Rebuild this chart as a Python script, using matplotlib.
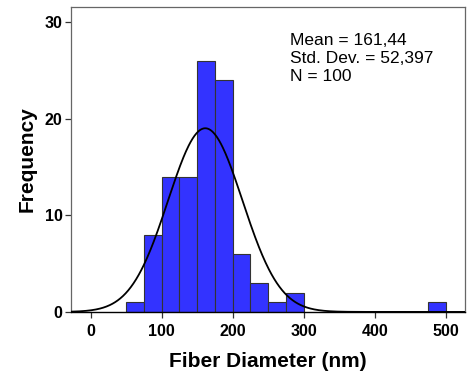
import numpy as np
import matplotlib
matplotlib.use("Agg")
import matplotlib.pyplot as plt

bin_edges_left = [50, 75, 100, 125, 150, 175, 200, 225, 250, 275, 475]
counts = [1, 8, 14, 14, 26, 24, 6, 3, 1, 2, 1]
bin_width = 25
mean = 161.44
std = 52.397
n = 100
xticks = [0, 100, 200, 300, 400, 500]
yticks = [0, 10, 20, 30]

plt.rcParams['font.family'] = ['Liberation Sans', 'DejaVu Sans']

fig = plt.figure(figsize=(4.7, 3.79), dpi=100)
ax = fig.add_axes([0.151, 0.177, 0.838, 0.8045])

ax.bar(bin_edges_left, counts, width=bin_width, align='edge',
       color='#3333ff', edgecolor='#333333', linewidth=0.8, zorder=2)

xlim = (-27.7, 527)
xs = np.linspace(xlim[0], xlim[1], 600)
ys = n * bin_width * np.exp(-0.5 * ((xs - mean) / std) ** 2) / (std * np.sqrt(2 * np.pi))
ax.plot(xs, ys, color='black', lw=1.3, zorder=3)

ax.set_xlim(*xlim)
ax.set_ylim(0, 31.6)
ax.set_xticks(xticks)
ax.set_yticks(yticks)
ax.tick_params(axis='both', direction='out', length=4, width=0.9, color='#333333',
               labelsize=11.5)
ax.tick_params(axis='x', pad=5)
ax.tick_params(axis='y', pad=2)
for lab in ax.get_xticklabels() + ax.get_yticklabels():
    lab.set_fontweight('bold')

for s in ['left', 'top', 'right']:
    ax.spines[s].set_color('#666666')
    ax.spines[s].set_linewidth(0.9)
ax.spines['bottom'].set_color('black')
ax.spines['bottom'].set_linewidth(1.0)

ax.set_xlabel('Fiber Diameter (nm)', fontsize=15, fontweight='bold', labelpad=9)
ax.set_ylabel('Frequency', fontsize=15, fontweight='bold', labelpad=6)

stats_text = 'Mean = {}\nStd. Dev. = {}\nN = {}'.format(
    '{:.2f}'.format(mean).replace('.', ','),
    '{:.3f}'.format(std).replace('.', ','),
    n)
ax.text(0.556, 0.915, stats_text,
        transform=ax.transAxes, ha='left', va='top', fontsize=12.5, linespacing=1.25)

fig.savefig('out.png', dpi=100)
